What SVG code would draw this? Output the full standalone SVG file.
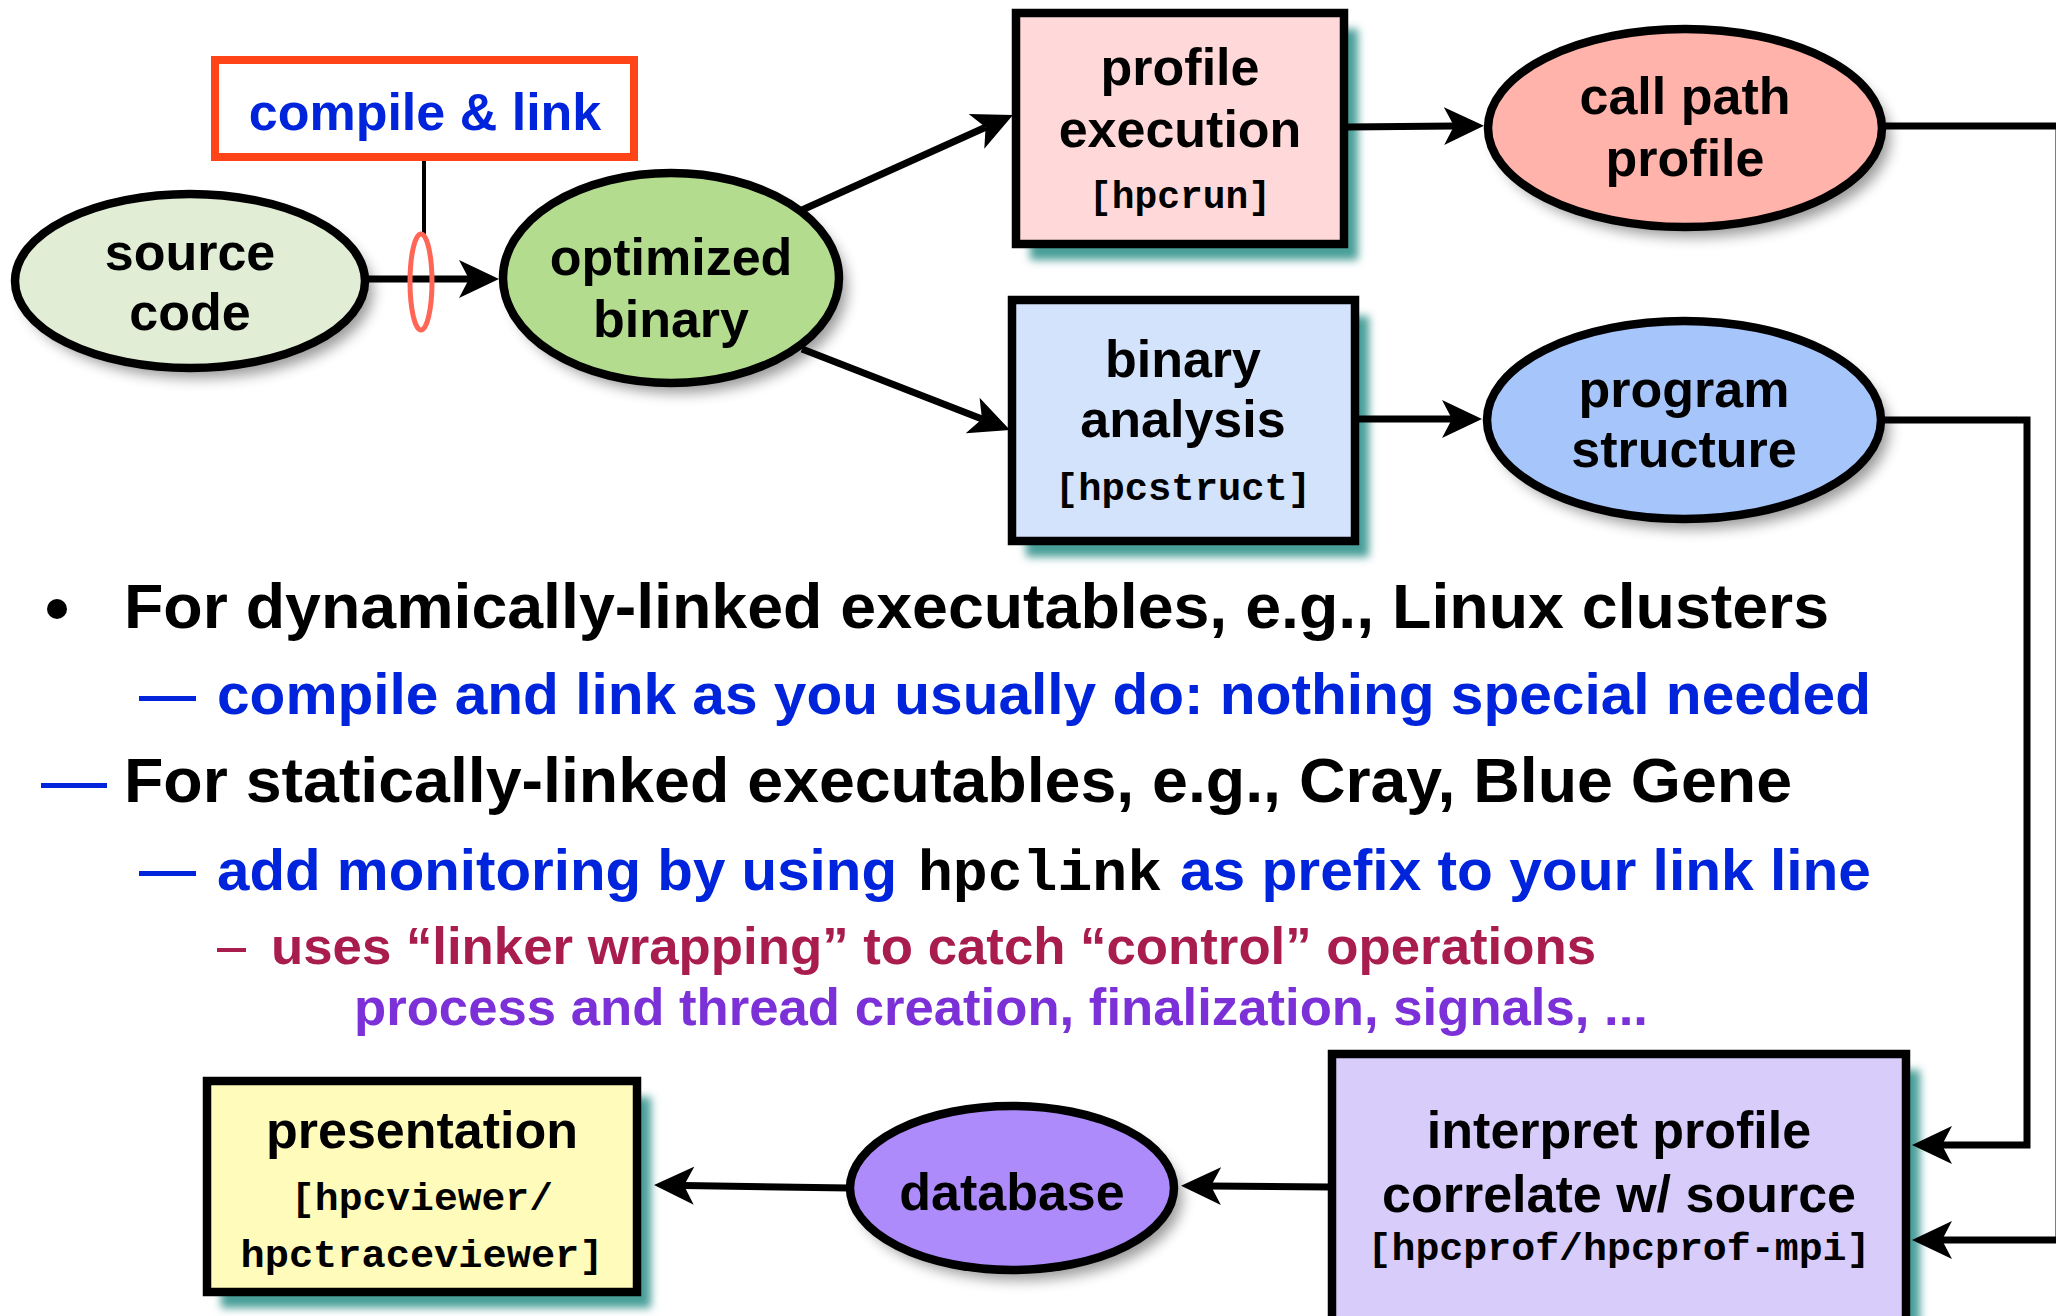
<svg xmlns="http://www.w3.org/2000/svg" width="2056" height="1316" viewBox="0 0 2056 1316">
<defs>
<style>
.lbl{font-family:"Liberation Sans",Arial,Helvetica,sans-serif;font-weight:bold;font-size:52px;fill:#000;text-anchor:middle}
.mono{font-family:"Liberation Mono","Courier New",monospace;font-weight:bold;font-size:39px;fill:#000;text-anchor:middle}
.node{stroke:#000;stroke-width:8.5}
.tshadow{fill:#4A9F99}
.gshadow{fill:#000;opacity:0.4}
.conn{fill:none;stroke:#000;stroke-width:7;stroke-linejoin:miter}
.body{font-family:"Liberation Sans",Arial,Helvetica,sans-serif;font-weight:bold}
.blk{fill:#000;font-size:63px}
.blu{fill:#0024DC;font-size:58px}
.red{fill:#A91C4E;font-size:52px}
.pur{fill:#7B30D8;font-size:52px}
.monob{font-family:"Liberation Mono","Courier New",monospace;font-weight:bold;fill:#000;font-size:58px}
</style>
<filter id="tb" x="-20%" y="-20%" width="140%" height="140%"><feGaussianBlur stdDeviation="4"/></filter>
<filter id="gb" x="-20%" y="-20%" width="140%" height="140%"><feGaussianBlur stdDeviation="7"/></filter>
<marker id="ah" markerUnits="userSpaceOnUse" viewBox="0 -20 40 40" refX="10" refY="0" markerWidth="40" markerHeight="40" orient="auto"><path d="M40,0 L0,-19 L10,0 L0,19 Z" fill="#000"/></marker>
</defs>
<rect width="2056" height="1316" fill="#fff"/>

<g id="source-code">
<ellipse class="gshadow" cx="198" cy="291" rx="175" ry="87" filter="url(#gb)"/>
<ellipse class="node" cx="190" cy="281" rx="175" ry="87" fill="#E1EDD5"/>
<text class="lbl" x="190" y="270">source</text>
<text class="lbl" x="190" y="330">code</text>
</g>

<g id="optimized-binary">
<ellipse class="gshadow" cx="679" cy="288" rx="168" ry="105" filter="url(#gb)"/>
<ellipse class="node" cx="671" cy="278" rx="168" ry="105" fill="#B3DC8E"/>
<text class="lbl" x="671" y="275">optimized</text>
<text class="lbl" x="671" y="337">binary</text>
</g>

<g id="profile-execution">
<rect class="tshadow" x="1030" y="29" width="328" height="231" filter="url(#tb)"/>
<rect class="node" x="1016" y="13" width="328" height="231" fill="#FFD9D9"/>
<text class="lbl" x="1180" y="85">profile</text>
<text class="lbl" x="1180" y="147">execution</text>
<text class="mono" x="1180" y="208" textLength="182" lengthAdjust="spacingAndGlyphs">[hpcrun]</text>
</g>

<g id="call-path-profile">
<ellipse class="gshadow" cx="1693" cy="138" rx="197" ry="99" filter="url(#gb)"/>
<ellipse class="node" cx="1685" cy="128" rx="197" ry="99" fill="#FFB3AB"/>
<text class="lbl" x="1685" y="114">call path</text>
<text class="lbl" x="1685" y="176">profile</text>
</g>

<g id="binary-analysis">
<rect class="tshadow" x="1026" y="316" width="343" height="241" filter="url(#tb)"/>
<rect class="node" x="1012" y="300" width="343" height="241" fill="#D4E3FC"/>
<text class="lbl" x="1183" y="377">binary</text>
<text class="lbl" x="1183" y="437">analysis</text>
<text class="mono" x="1183" y="500" textLength="256" lengthAdjust="spacingAndGlyphs">[hpcstruct]</text>
</g>

<g id="program-structure">
<ellipse class="gshadow" cx="1692" cy="430" rx="197" ry="99" filter="url(#gb)"/>
<ellipse class="node" cx="1684" cy="420" rx="197" ry="99" fill="#A6C6FB"/>
<text class="lbl" x="1684" y="407">program</text>
<text class="lbl" x="1684" y="467">structure</text>
</g>

<g id="interpret-profile">
<rect class="tshadow" x="1346" y="1070" width="574" height="280" filter="url(#tb)"/>
<rect class="node" x="1332" y="1054" width="574" height="290" fill="#D8CCFB"/>
<text class="lbl" x="1619" y="1148">interpret profile</text>
<text class="lbl" x="1619" y="1212">correlate w/ source</text>
<text class="mono" x="1619" y="1260" textLength="503" lengthAdjust="spacingAndGlyphs">[hpcprof/hpcprof-mpi]</text>
</g>

<g id="database">
<ellipse class="gshadow" cx="1020" cy="1198" rx="162" ry="82" filter="url(#gb)"/>
<ellipse class="node" cx="1012" cy="1188" rx="162" ry="82" fill="#AE8BFA"/>
<text class="lbl" x="1012" y="1210">database</text>
</g>

<g id="presentation">
<rect class="tshadow" x="221" y="1097" width="430" height="211" filter="url(#tb)"/>
<rect class="node" x="207" y="1081" width="430" height="211" fill="#FFFCBB"/>
<text class="lbl" x="422" y="1148">presentation</text>
<text class="mono" x="422" y="1210" textLength="262" lengthAdjust="spacingAndGlyphs">[hpcviewer/</text>
<text class="mono" x="422" y="1267" textLength="363" lengthAdjust="spacingAndGlyphs">hpctraceviewer]</text>
</g>

<g id="connectors">
<path class="conn" d="M368,279 L469,279" marker-end="url(#ah)"/>
<path class="conn" d="M802,210 L985.6,127.3" marker-end="url(#ah)"/>
<path class="conn" d="M802,349 L982,419.1" marker-end="url(#ah)"/>
<path class="conn" d="M1348,127 L1454,126" marker-end="url(#ah)"/>
<path class="conn" d="M1357,419 L1452,419" marker-end="url(#ah)"/>
<path class="conn" d="M1884,126 H2059 V1240 H1942" marker-end="url(#ah)"/>
<path class="conn" d="M1882,420 H2027 V1145 H1942" marker-end="url(#ah)"/>
<path class="conn" d="M1330,1187 L1211,1186" marker-end="url(#ah)"/>
<path class="conn" d="M849,1188 L684,1185.5" marker-end="url(#ah)"/>
<path d="M424,159 V234" stroke="#000" stroke-width="4" fill="none"/>
</g>

<g id="compile-link">
<rect x="215" y="60" width="419" height="97" fill="#fff" stroke="#FF4418" stroke-width="8"/>
<text class="lbl" x="425" y="130" style="fill:#0024DC">compile &amp; link</text>
<ellipse cx="421" cy="282" rx="11" ry="48" fill="none" stroke="#FF6655" stroke-width="5"/>
</g>

<g id="bullets">
<circle cx="57" cy="609" r="10" fill="#000"/>
<text class="body blk" x="124" y="628" textLength="1705" lengthAdjust="spacingAndGlyphs">For dynamically-linked executables, e.g., Linux clusters</text>
<rect x="139" y="696" width="57" height="5" fill="#0024DC"/>
<text class="body blu" x="217" y="714" textLength="1654" lengthAdjust="spacingAndGlyphs">compile and link as you usually do: nothing special needed</text>
<rect x="41" y="783" width="66" height="5" fill="#0024DC"/>
<text class="body blk" x="124" y="802" textLength="1668" lengthAdjust="spacingAndGlyphs">For statically-linked executables, e.g., Cray, Blue Gene</text>
<rect x="139" y="871" width="57" height="5" fill="#0024DC"/>
<text class="body blu" x="217" y="890" textLength="680" lengthAdjust="spacingAndGlyphs">add monitoring by using</text>
<text class="monob" x="918" y="890" textLength="244" lengthAdjust="spacingAndGlyphs">hpclink</text>
<text class="body blu" x="1180" y="890" textLength="691" lengthAdjust="spacingAndGlyphs">as prefix to your link line</text>
<rect x="217" y="948" width="29" height="4" fill="#A91C4E"/>
<text class="body red" x="271" y="964" textLength="1325" lengthAdjust="spacingAndGlyphs">uses “linker wrapping” to catch “control” operations</text>
<text class="body pur" x="354" y="1025" textLength="1294" lengthAdjust="spacingAndGlyphs">process and thread creation, finalization, signals, ...</text>
</g>
</svg>
